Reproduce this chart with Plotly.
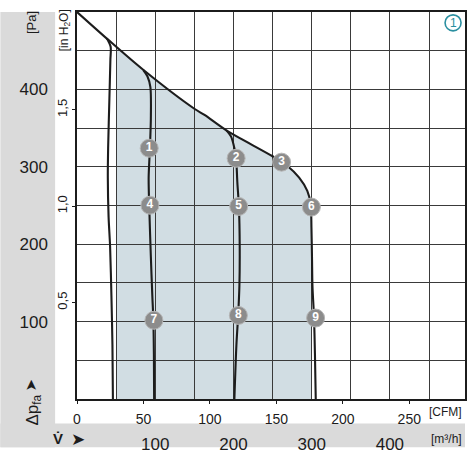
import numpy as np
import plotly.graph_objects as go

# ---------------- data (volume flow in m³/h, pressure in Pa) ----------------
env_x = [0, 40, 85, 150, 163, 191, 250]
env_y = [500, 464, 425, 375, 367, 347, 313.6]

c0_x = [38.1, 43.0, 42.7, 41.4, 39.8, 39.4, 40.4, 42.3, 44.0, 45.3, 45.9]
c0_y = [466, 455, 438.5, 387.7, 324, 286, 235, 197, 133.5, 70, 0]

c1_x = [84.7, 90, 93.8, 94.4, 93.2, 91.6, 92.3, 94.4, 96.3, 97.6, 98.3, 98.6]
c1_y = [425, 417, 403, 362, 324, 286, 250, 184, 133, 102, 57, 0]

c2_x = [190.7, 197, 201.2, 203.4, 205, 207, 208, 207.6, 206, 203.8, 201.2]
c2_y = [347.4, 339, 324, 311, 279.6, 248, 197, 146, 108, 70, 0]

c3_x = [250, 269, 284, 294.4, 298.7, 299.7, 300.4, 301, 303, 304.2, 305.2]
c3_y = [313.6, 301, 286, 269, 252, 222, 184, 146, 105.5, 57, 0]

pt_labels = ["1", "2", "3", "4", "5", "6", "7", "8", "9"]
pt_x = [92.3, 203.4, 261.5, 93.2, 206.7, 299.6, 98.3, 206.3, 305.0]
pt_y = [324, 311, 306, 250.4, 248.8, 248, 101.7, 108, 104.6]

shade_x_min = 50
shade_x_max = 300

m3h_ticks = [100, 200, 300, 400]
cfm_ticks = [0, 50, 100, 150, 200, 250]
pa_ticks = [100, 200, 300, 400]
inh2o_ticks = [0.5, 1.0, 1.5]
inh2o_text = ["0,5", "1,0", "1,5"]

grid_step = 50
x_max = 496.0
y_max = 500.0
CFM_PER_M3H = 0.588578
PA_PER_INH2O = 249.0889

# ---------------- styling ----------------
FONT = "Liberation Sans Narrow, Arial Narrow, Liberation Sans, Arial, sans-serif"
INK = "#1c1c1c"
GRID = "#3a3a3a"
BAND = "#dadada"
SHADE = "#d1dde3"
BADGE = "#8c8c8c"
TEAL = "#2a8fa0"

W, H = 467, 454
ML, MR, MT, MB = 77, 0, 12, 49
PW, PH = W - ML - MR, H - MT - MB


def px(xp):
    return (xp - ML) / PW


def py(yp):
    return (H - MB - yp) / PH


fig = go.Figure()

# envelope (max pressure line + highest speed curve)
top_x = env_x + c3_x[1:]
top_y = env_y + c3_y[1:]

# shaded operating area, built from the envelope
tx = np.array(top_x, dtype=float)
ty = np.array(top_y, dtype=float)
keep = tx >= shade_x_min
sx = np.minimum(tx[keep], shade_x_max)
sy = ty[keep]
y_start = float(np.interp(shade_x_min, env_x, env_y))
path_pts = [(shade_x_min, 0), (shade_x_min, y_start)] + list(zip(sx, sy))
path = "M " + " L ".join(f"{a:.2f},{b:.2f}" for a, b in path_pts) + " Z"

shapes = [
    dict(type="path", path=path, xref="x", yref="y", fillcolor=SHADE,
         line=dict(width=0), layer="below"),
    # grey bands
    dict(type="rect", xref="paper", yref="paper", x0=px(0), x1=px(55), y0=py(H), y1=py(MT),
         fillcolor=BAND, line=dict(width=0), layer="below"),
    dict(type="rect", xref="paper", yref="paper", x0=px(0), x1=px(W), y0=py(H), y1=py(430),
         fillcolor=BAND, line=dict(width=0), layer="below"),
    # numbered badge outline at top right
    dict(type="circle", xref="paper", yref="paper", xsizemode="pixel", ysizemode="pixel",
         xanchor=px(455), yanchor=py(23), x0=-8, x1=8, y0=-8, y1=8,
         line=dict(color=TEAL, width=1.6), fillcolor="white", layer="above"),
]

line_style = dict(color=INK, width=2.1, shape="spline", smoothing=0.8)
for xs, ys in [(top_x, top_y), (c0_x, c0_y), (c1_x, c1_y), (c2_x, c2_y)]:
    fig.add_trace(go.Scatter(x=xs, y=ys, mode="lines", line=line_style,
                             hoverinfo="skip", showlegend=False))

fig.add_trace(go.Scatter(
    x=pt_x, y=pt_y, mode="markers+text", text=[f"<b>{t}</b>" for t in pt_labels],
    textposition="middle center",
    textfont=dict(family="Liberation Sans, Arial, sans-serif", size=12, color="white"),
    marker=dict(size=18, color=BADGE, line=dict(color="#b5b5b5", width=1)),
    hoverinfo="skip", showlegend=False))

# invisible traces for the secondary axes
fig.add_trace(go.Scatter(x=[0], y=[0], xaxis="x2", yaxis="y", mode="markers",
                         marker=dict(opacity=0), hoverinfo="skip", showlegend=False))
fig.add_trace(go.Scatter(x=[0], y=[0], xaxis="x", yaxis="y2", mode="markers",
                         marker=dict(opacity=0), hoverinfo="skip", showlegend=False))

annotations = [
    dict(text="[Pa]", x=px(32), y=py(23), textangle=-90,
         font=dict(family=FONT, size=13, color=INK)),
    dict(text="[in H<sub>2</sub>O]", x=px(64.5), y=py(31), textangle=-90,
         font=dict(family=FONT, size=12, color=INK)),
    dict(text="➤", x=px(31), y=py(391), textangle=-90,
         font=dict(family="DejaVu Sans", size=15, color=INK)),
    dict(text="Δp<sub>fa</sub>", x=px(33.5), y=py(416), textangle=-90,
         font=dict(family=FONT, size=17, color=INK)),
    dict(text="<b>V\u0307</b>", x=px(58), y=py(445),
         font=dict(family="Liberation Sans, Arial", size=15, color=INK)),
    dict(text="➤", x=px(78), y=py(446),
         font=dict(family="DejaVu Sans", size=17, color=INK)),
    dict(text="[CFM]", x=px(466), y=py(418), xanchor="right",
         font=dict(family=FONT, size=12, color=INK)),
    dict(text="[m³/h]", x=px(466), y=py(446), xanchor="right",
         font=dict(family=FONT, size=12, color=INK)),
    dict(text="1", x=px(455), y=py(23),
         font=dict(family="Liberation Sans, Arial", size=12, color=TEAL)),
]
for a in annotations:
    a.setdefault("xanchor", "center")
    a.update(xref="paper", yref="paper", showarrow=False, yanchor="middle")

minor_grid = dict(tick0=0, dtick=grid_step, showgrid=True, gridcolor=GRID,
                  gridwidth=1, ticks="")

fig.update_layout(
    width=W, height=H,
    margin=dict(l=ML, r=MR, t=MT, b=MB, pad=0),
    paper_bgcolor="white", plot_bgcolor="rgba(0,0,0,0)",
    showlegend=False,
    shapes=shapes, annotations=annotations,
    xaxis=dict(
        range=[0, x_max], tickmode="array", tickvals=m3h_ticks,
        ticktext=[str(v) for v in m3h_ticks],
        showgrid=True, gridcolor=GRID, gridwidth=1, zeroline=False,
        minor=minor_grid,
        showline=True, linecolor=INK, linewidth=1.5, mirror=True,
        ticks="", ticklabelstandoff=29,
        tickfont=dict(family=FONT, size=17, color=INK), fixedrange=True,
    ),
    xaxis2=dict(
        range=[0, x_max * CFM_PER_M3H], overlaying="x", side="bottom", anchor="y",
        tickmode="array", tickvals=cfm_ticks, ticktext=[str(v) for v in cfm_ticks],
        showgrid=False, zeroline=False, showline=False,
        ticks="outside", ticklen=4, tickwidth=1, tickcolor=INK, ticklabelstandoff=3,
        tickfont=dict(family=FONT, size=14, color=INK), fixedrange=True,
    ),
    yaxis=dict(
        range=[0, y_max], tickmode="array", tickvals=pa_ticks,
        ticktext=[str(v) for v in pa_ticks],
        showgrid=True, gridcolor=GRID, gridwidth=1, zeroline=False,
        minor=minor_grid,
        showline=True, linecolor=INK, linewidth=1.5, mirror=True,
        ticks="", ticklabelstandoff=24,
        tickfont=dict(family=FONT, size=17, color=INK), fixedrange=True,
    ),
    yaxis2=dict(
        range=[0, y_max / PA_PER_INH2O], overlaying="y", side="left", anchor="x",
        tickmode="array", tickvals=inh2o_ticks, ticktext=inh2o_text,
        showgrid=False, zeroline=False, showline=False,
        ticks="outside", ticklen=4, tickwidth=1, tickcolor=INK, tickangle=-90,
        tickfont=dict(family=FONT, size=13, color=INK), fixedrange=True,
    ),
)

fig.write_html("out.html", config={"displayModeBar": False},
               post_script="document.body.style.margin='0';document.body.style.overflow='hidden';")
